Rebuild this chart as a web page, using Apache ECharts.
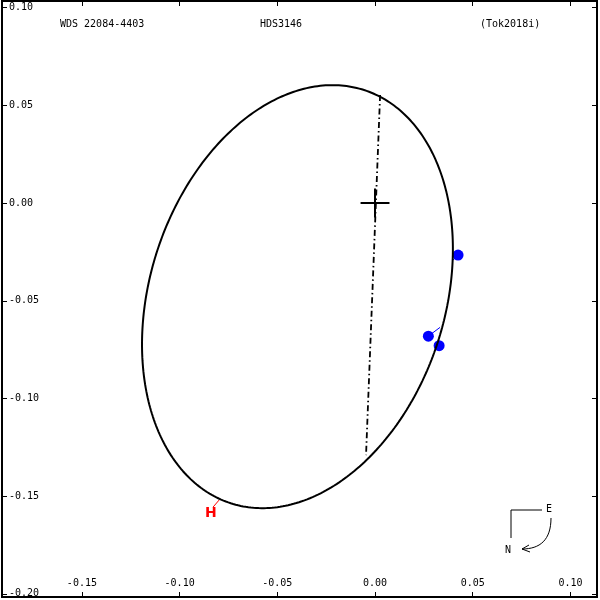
<!DOCTYPE html>
<html><head><meta charset="utf-8">
<script src="https://cdn.jsdelivr.net/npm/echarts@6/dist/echarts.min.js"></script>
<style>html,body{margin:0;padding:0;background:#fff}#c{width:600px;height:600px}</style>
</head><body><div id="c"></div>
<script>
// ---- data ----
var titleLeft = 'WDS 22084-4403';
var titleMid = 'HDS3146';
var titleRight = '(Tok2018i)';
var xTicks = [-0.15, -0.10, -0.05, 0.00, 0.05, 0.10];
var yTicks = [0.10, 0.05, 0.00, -0.05, -0.10, -0.15, -0.20];
var xRange = [-0.1909, 0.1136];
var yRange = [-0.2016, 0.1034];
// apparent orbit ellipse (centre, semi-axes, position angle of major axis from +x, degrees)
var orbitCenter = [-0.0397, -0.0479];
var orbitSemiMajor = 0.1111;
var orbitSemiMinor = 0.0755;
var orbitAngleDeg = 72.1;
// line of nodes end points
var nodeLine = [[0.0026, 0.0553], [-0.0046, -0.1290]];
// primary star cross half length
var crossHalf = 0.0074;
// observed positions and their predicted positions on the orbit
var obsPoints = [[0.0425, -0.0266], [0.0273, -0.0681], [0.0328, -0.0730]];
var calcPoints = [[0.0394, -0.0297], [0.0333, -0.0636], [0.0313, -0.0716]];
// Hipparcos mark
var hipLine = [[-0.0798, -0.1520], [-0.0829, -0.1556]];
var hipLabel = [-0.0840, -0.1587];

// ---- build ----
var orbit = [];
var th = orbitAngleDeg * Math.PI / 180;
for (var i = 0; i <= 360; i++) {
  var t = i * Math.PI / 180;
  var u = orbitSemiMajor * Math.cos(t), v = orbitSemiMinor * Math.sin(t);
  orbit.push([orbitCenter[0] + u * Math.cos(th) - v * Math.sin(th),
              orbitCenter[1] + u * Math.sin(th) + v * Math.cos(th)]);
}
var ocLines = obsPoints.map(function (p, k) { return { coords: [p, calcPoints[k]] }; });
var font = 'DejaVu Sans Mono';
function fmt(v) { return (Math.abs(v) < 1e-9 ? 0 : v).toFixed(2); }
var tick = { show: true, inside: true, length: 5, lineStyle: { color: '#000', width: 1 } };
function axisTick(vals) { return Object.assign({ customValues: vals }, tick); }

var chart = echarts.init(document.getElementById('c'), null, { renderer: 'canvas' });
chart.setOption({
  animation: false,
  backgroundColor: '#fff',
  grid: { left: 2, right: 3, top: 1, bottom: 3, show: true, borderColor: '#000', borderWidth: 2, backgroundColor: 'transparent' },
  xAxis: [{
    type: 'value', min: xRange[0], max: xRange[1], position: 'bottom',
    splitLine: { show: false }, axisLine: { show: false, onZero: false },
    axisTick: axisTick(xTicks),
    axisLabel: { show: true, inside: true, margin: 9, customValues: xTicks, formatter: fmt, color: '#000', fontFamily: font, fontSize: 10 }
  }, {
    type: 'value', min: xRange[0], max: xRange[1], position: 'top',
    splitLine: { show: false }, axisLine: { show: false, onZero: false },
    axisTick: axisTick(xTicks),
    axisLabel: { show: false }
  }],
  yAxis: [{
    type: 'value', min: yRange[0], max: yRange[1], position: 'left',
    splitLine: { show: false }, axisLine: { show: false, onZero: false },
    axisTick: axisTick(yTicks),
    axisLabel: { show: true, inside: true, margin: 7, customValues: yTicks, formatter: fmt, color: '#000', fontFamily: font, fontSize: 10 }
  }, {
    type: 'value', min: yRange[0], max: yRange[1], position: 'right',
    splitLine: { show: false }, axisLine: { show: false, onZero: false },
    axisTick: axisTick(yTicks),
    axisLabel: { show: false }
  }],
  title: [
    { text: titleLeft, left: 60, top: 19, padding: 0, textStyle: { fontFamily: font, fontSize: 10, fontWeight: 'normal', color: '#000' } },
    { text: titleMid, left: 260, top: 19, padding: 0, textStyle: { fontFamily: font, fontSize: 10, fontWeight: 'normal', color: '#000' } },
    { text: titleRight, left: 480, top: 19, padding: 0, textStyle: { fontFamily: font, fontSize: 10, fontWeight: 'normal', color: '#000' } }
  ],
  series: [
    { type: 'line', data: orbit, showSymbol: false, symbol: 'none', silent: true,
      lineStyle: { color: '#000', width: 2 } },
    { type: 'lines', coordinateSystem: 'cartesian2d', silent: true,
      data: [{ coords: nodeLine }],
      lineStyle: { color: '#000', width: 1.8, type: [6, 3, 1.5, 3], opacity: 1 } },
    { type: 'lines', coordinateSystem: 'cartesian2d', silent: true,
      data: [{ coords: [[-crossHalf, 0], [crossHalf, 0]] }, { coords: [[0, -crossHalf], [0, crossHalf]] }],
      lineStyle: { color: '#000', width: 2, opacity: 1 } },
    { type: 'lines', coordinateSystem: 'cartesian2d', silent: true, data: ocLines,
      lineStyle: { color: '#0000ff', width: 1, opacity: 1 } },
    { type: 'scatter', data: obsPoints, symbol: 'circle', symbolSize: 11, silent: true,
      itemStyle: { color: '#0000ff', opacity: 1 } },
    { type: 'lines', coordinateSystem: 'cartesian2d', silent: true, data: [{ coords: hipLine }],
      lineStyle: { color: '#ff0000', width: 1, opacity: 1 } },
    { type: 'scatter', data: [hipLabel], symbolSize: 0, silent: true, itemStyle: { color: '#ff0000', opacity: 1 },
      label: { show: true, position: 'inside', formatter: 'H', color: '#ff0000', opacity: 1, fontFamily: 'DejaVu Sans', fontWeight: 'bold', fontSize: 14 } }
  ],
  graphic: [
    { type: 'polyline', shape: { points: [[511, 538], [511, 510], [542, 510]] }, style: { stroke: '#000', lineWidth: 1, fill: null } },
    { type: 'text', x: 549, y: 509, style: { text: 'E', font: '10px "DejaVu Sans Mono"', fill: '#000', align: 'center', verticalAlign: 'middle' } },
    { type: 'text', x: 508, y: 550, style: { text: 'N', font: '10px "DejaVu Sans Mono"', fill: '#000', align: 'center', verticalAlign: 'middle' } },
    { type: 'bezierCurve', shape: { x1: 551, y1: 518, cpx1: 551, cpy1: 540, cpx2: 540, cpy2: 549, x2: 522, y2: 549 }, style: { stroke: '#000', lineWidth: 1, fill: null } },
    { type: 'polyline', shape: { points: [[529, 545], [522, 549], [530, 552]] }, style: { stroke: '#000', lineWidth: 1, fill: null } }
  ]
});
</script>
</body></html>
